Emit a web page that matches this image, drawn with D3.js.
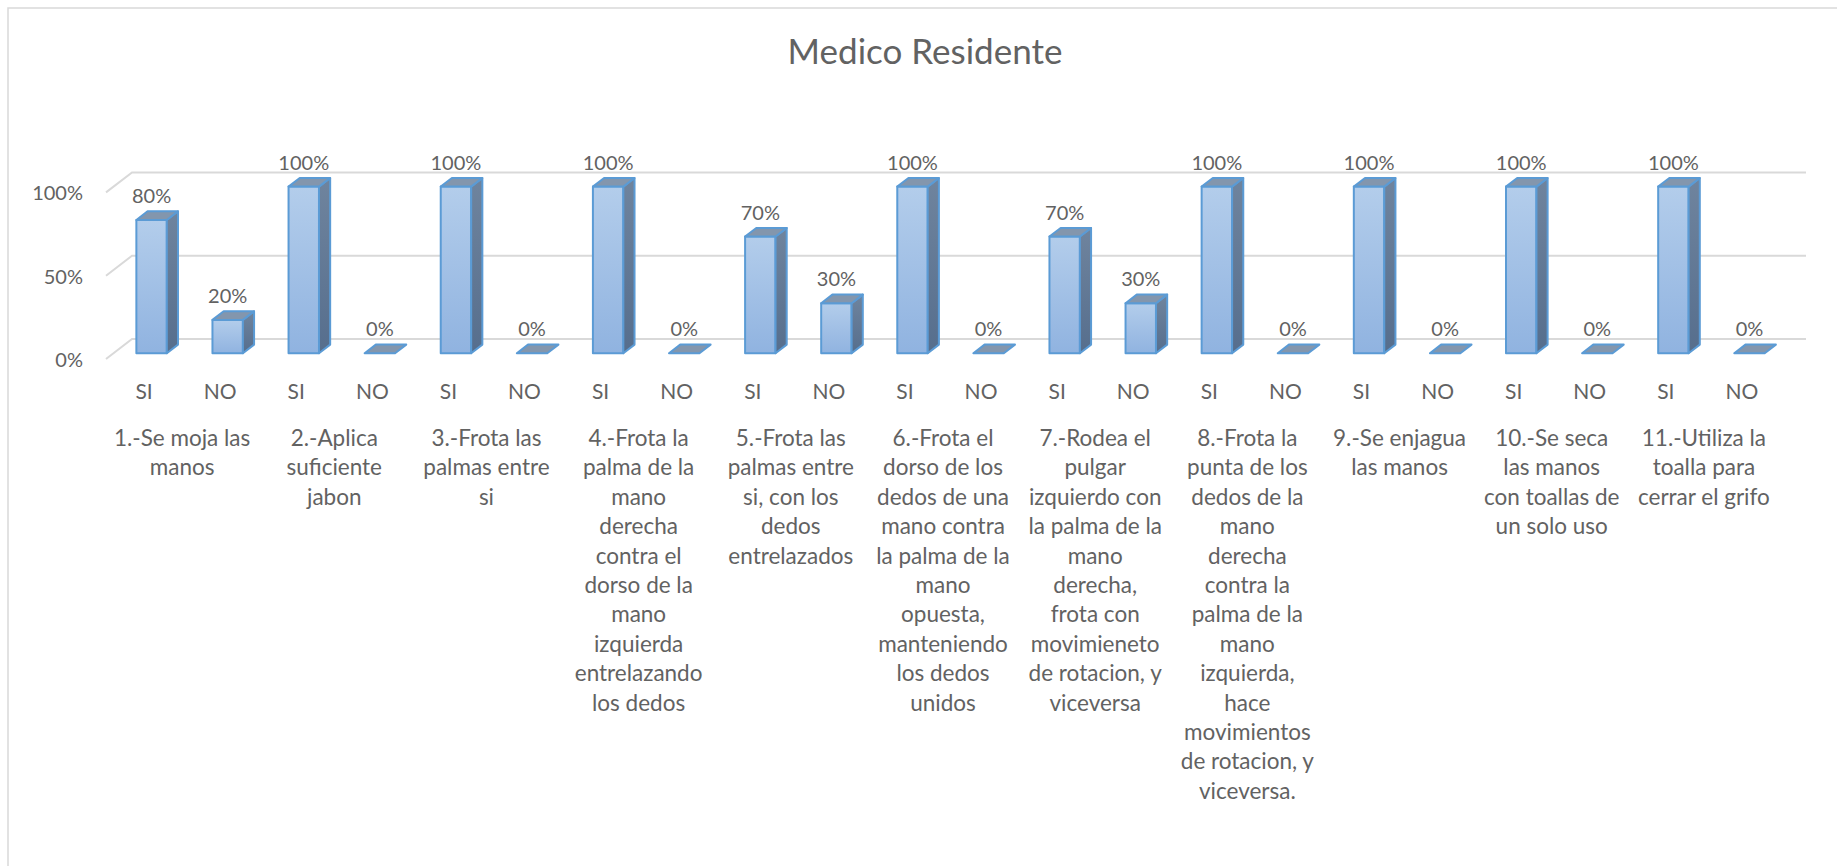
<!DOCTYPE html>
<html>
<head>
<meta charset="utf-8">
<script src="https://cdn.jsdelivr.net/npm/d3@7"></script>
<style>
  html, body { margin: 0; padding: 0; background: #ffffff; }
  svg { display: block; }
  text { font-family: Lato, "Open Sans", sans-serif; fill: #626262; }
</style>
</head>
<body>
<svg id="chart" width="1837" height="866"></svg>
<script>
// Hand-washing checklist results, resident physician
const title = "Medico Residente";
const categories = [
  "1.-Se moja las\nmanos",
  "2.-Aplica\nsuficiente\njabon",
  "3.-Frota las\npalmas entre\nsi",
  "4.-Frota la\npalma de la\nmano\nderecha\ncontra el\ndorso de la\nmano\nizquierda\nentrelazando\nlos dedos",
  "5.-Frota las\npalmas entre\nsi, con los\ndedos\nentrelazados",
  "6.-Frota el\ndorso de los\ndedos de una\nmano contra\nla palma de la\nmano\nopuesta,\nmanteniendo\nlos dedos\nunidos",
  "7.-Rodea el\npulgar\nizquierdo con\nla palma de la\nmano\nderecha,\nfrota con\nmovimieneto\nde rotacion, y\nviceversa",
  "8.-Frota la\npunta de los\ndedos de la\nmano\nderecha\ncontra la\npalma de la\nmano\nizquierda,\nhace\nmovimientos\nde rotacion, y\nviceversa.",
  "9.-Se enjagua\nlas manos",
  "10.-Se seca\nlas manos\ncon toallas de\nun solo uso",
  "11.-Utiliza la\ntoalla para\ncerrar el grifo"
];
const answers = ["SI", "NO"];
const siValues = [80, 100, 100, 100, 70, 100, 70, 100, 100, 100, 100];
const noValues = [20, 0, 0, 0, 30, 0, 30, 0, 0, 0, 0];
const yTicks = [0, 50, 100];

const svg = d3.select("#chart");

// chart frame
svg.append("rect")
  .attr("x", 8).attr("y", 8)
  .attr("width", 1900).attr("height", 950)
  .attr("fill", "#ffffff")
  .attr("stroke", "#d9d9d9").attr("stroke-width", 1.5);

// title
svg.append("text")
  .attr("x", 925).attr("y", 64)
  .attr("text-anchor", "middle")
  .style("font-size", "35px")
  .text(title);

// oblique 3D projection: depth vector across the full floor depth
const DX = 26, DY = -20;
const dFront = 0.29, dBack = 0.72;

const x0 = d3.scaleBand().domain(d3.range(categories.length)).range([106, 1780]);
const x1 = d3.scaleBand().domain(answers).range([0, x0.bandwidth()])
  .paddingInner(0.6).paddingOuter(0.3);
const y = d3.scaleLinear().domain([0, 100]).range([359, 192.4]);

// gridlines: side wall diagonal + back wall line
const grid = svg.append("g").attr("stroke", "#d9d9d9").attr("stroke-width", 2).attr("fill", "none");
yTicks.forEach(t => {
  const x0l = x0.range()[0], x0r = x0.range()[1];
  grid.append("path")
    .attr("d", `M${x0l},${y(t)} L${x0l + DX},${y(t) + DY} L${x0r + DX},${y(t) + DY}`);
});

// y axis labels
svg.append("g").selectAll("text").data(yTicks).join("text")
  .attr("x", 83).attr("y", d => y(d))
  .attr("text-anchor", "end")
  .attr("dominant-baseline", "central")
  .style("font-size", "20px")
  .text(d => d + "%");

// gradients
const defs = svg.append("defs");
const gFront = defs.append("linearGradient").attr("id", "gFront")
  .attr("x1", 0).attr("y1", 0).attr("x2", 0).attr("y2", 1);
gFront.append("stop").attr("offset", "0%").attr("stop-color", "#b3cdeb");
gFront.append("stop").attr("offset", "100%").attr("stop-color", "#90b3e0");
const gSide = defs.append("linearGradient").attr("id", "gSide")
  .attr("x1", 0).attr("y1", 0).attr("x2", 0).attr("y2", 1);
gSide.append("stop").attr("offset", "0%").attr("stop-color", "#6f849e");
gSide.append("stop").attr("offset", "100%").attr("stop-color", "#566e8d");

const bars = [];
categories.forEach((c, i) => {
  bars.push({ ci: i, key: "SI", v: siValues[i] });
  bars.push({ ci: i, key: "NO", v: noValues[i] });
});

const bw = x1.bandwidth();
const bdx = DX * (dBack - dFront), bdy = DY * (dBack - dFront);
const stroke = "#5b9bd5";

const barG = svg.append("g");
bars.forEach(b => {
  const fx = x0(b.ci) + x1(b.key) + DX * dFront;
  const fy0 = y(0) + DY * dFront;
  const fy1 = y(b.v) + DY * dFront;
  const g = barG.append("g").attr("stroke", stroke).attr("stroke-width", 2).attr("stroke-linejoin", "round");
  if (b.v > 0) {
    g.append("rect")
      .attr("x", fx).attr("y", fy1).attr("width", bw).attr("height", fy0 - fy1)
      .attr("fill", "url(#gFront)");
    g.append("polygon")
      .attr("points", [[fx + bw, fy1], [fx + bw + bdx, fy1 + bdy], [fx + bw + bdx, fy0 + bdy], [fx + bw, fy0]].join(" "))
      .attr("fill", "url(#gSide)");
  }
  g.append("polygon")
    .attr("points", [[fx, fy1], [fx + bdx, fy1 + bdy], [fx + bw + bdx, fy1 + bdy], [fx + bw, fy1]].join(" "))
    .attr("fill", "#8396ad");

  // value label
  svg.append("text")
    .attr("x", fx + bw / 2).attr("y", fy1 - 25)
    .attr("text-anchor", "middle")
    .attr("dominant-baseline", "central")
    .style("font-size", "20px")
    .text(b.v + "%");

  // SI / NO label on the front floor edge
  svg.append("text")
    .attr("x", x0(b.ci) + x1(b.key) + bw / 2).attr("y", 390)
    .attr("text-anchor", "middle")
    .attr("dominant-baseline", "central")
    .style("font-size", "21px")
    .text(b.key);
});

// category labels
const catG = svg.append("g");
categories.forEach((c, i) => {
  const t = catG.append("text")
    .attr("x", x0(i) + x0.bandwidth() / 2)
    .attr("y", 437)
    .attr("text-anchor", "middle")
    .attr("dominant-baseline", "central")
    .style("font-size", "22.5px");
  c.split("\n").forEach((line, k) => {
    t.append("tspan")
      .attr("x", x0(i) + x0.bandwidth() / 2)
      .attr("y", 437 + k * 29.4)
      .text(line);
  });
});
</script>
</body>
</html>
